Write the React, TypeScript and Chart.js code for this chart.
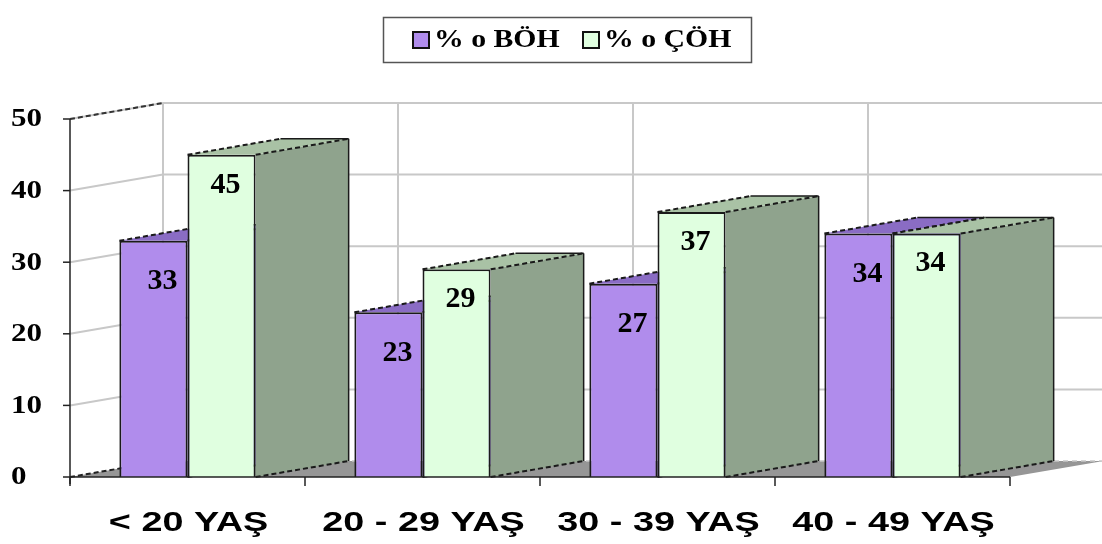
import React, { useEffect, useRef } from "react";
import { Chart, registerables } from "chart.js";

Chart.register(...registerables);

const categories = ["< 20 YAŞ", "20 - 29 YAŞ", "30 - 39 YAŞ", "40 - 49 YAŞ"];
const bohValues = [33, 23, 27, 34];
const cohValues = [45, 29, 37, 34];
const seriesNames = ["% o BÖH", "% o ÇÖH"];
const yTicks = [0, 10, 20, 30, 40, 50];

const DX = 93;
const DY = -16;

const FRONT = ["#B08CEC", "#E0FFE0"];
const TOP = ["#8A6CC4", "#A9C2A5"];
const SIDE = ["#7D60B4", "#8FA38D"];
const EDGE = "#1a1a1a";

const SERIF = '"Liberation Serif", "Times New Roman", Times, serif';
const SANS = '"Liberation Sans", Arial, Helvetica, sans-serif';

function stretchedText(
  ctx: CanvasRenderingContext2D,
  text: string,
  x: number,
  y: number,
  font: string,
  sx: number,
  align: CanvasTextAlign
) {
  ctx.save();
  ctx.font = font;
  ctx.textAlign = align;
  ctx.textBaseline = "middle";
  ctx.fillStyle = "#000";
  ctx.translate(x, y);
  ctx.scale(sx, 1);
  ctx.fillText(text, 0, 0);
  ctx.restore();
}

function poly(ctx: CanvasRenderingContext2D, pts: number[][], fill: string) {
  ctx.beginPath();
  ctx.moveTo(pts[0][0], pts[0][1]);
  for (let i = 1; i < pts.length; i++) ctx.lineTo(pts[i][0], pts[i][1]);
  ctx.closePath();
  ctx.fillStyle = fill;
  ctx.fill();
}

function line(
  ctx: CanvasRenderingContext2D,
  x1: number,
  y1: number,
  x2: number,
  y2: number,
  color: string,
  w: number,
  dash: number[] = []
) {
  ctx.save();
  ctx.beginPath();
  ctx.setLineDash(dash);
  ctx.strokeStyle = color;
  ctx.lineWidth = w;
  ctx.moveTo(x1, y1);
  ctx.lineTo(x2, y2);
  ctx.stroke();
  ctx.restore();
}

function drawBox3D(ctx: CanvasRenderingContext2D, el: any, idx: number) {
  const p = el.getProps(["x", "y", "base", "width"], true);
  const l = p.x - p.width / 2;
  const r = p.x + p.width / 2;
  const t = p.y;
  const b = p.base;
  poly(ctx, [[r, t], [r + DX, t + DY], [r + DX, b + DY], [r, b]], SIDE[idx]);
  poly(ctx, [[l, t], [r, t], [r + DX, t + DY], [l + DX, t + DY]], TOP[idx]);
  line(ctx, r + DX, t + DY, r + DX, b + DY, EDGE, 1.5);
  line(ctx, l, t, l + DX, t + DY, EDGE, 2, [5, 3]);
  line(ctx, r, t, r + DX, t + DY, EDGE, 2, [5, 3]);
  line(ctx, l + DX, t + DY, r + DX, t + DY, EDGE, 1.5);
  line(ctx, r, b, r + DX, b + DY, EDGE, 2, [5, 3]);
}

const threeD = {
  id: "threeD",
  beforeDatasetsDraw(chart: any) {
    const ctx: CanvasRenderingContext2D = chart.ctx;
    const area = chart.chartArea;
    const ys = chart.scales.y;
    const xs = chart.scales.x;
    const L = area.left;
    const R = area.right;
    const T = ys.getPixelForValue(yTicks[yTicks.length - 1]);
    const B = ys.getPixelForValue(0);
    const step = (R - L) / categories.length;

    poly(ctx, [[L, B], [R, B], [R + DX, B + DY], [L + DX, B + DY]], "#969696");
    line(ctx, L + DX, B + DY, R + DX, B + DY, "#c8c8c8", 1.5, [5, 4]);

    for (const v of yTicks) {
      const py = ys.getPixelForValue(v);
      if (v > 0) {
        line(ctx, L, py, L + DX, py + DY, "#c8c8c8", 2);
        line(ctx, L + DX, py + DY, R + DX + 10, py + DY, "#c8c8c8", 2);
      }
    }
    for (let i = 0; i <= categories.length; i++) {
      const px = (i < categories.length ? xs.getPixelForValue(i) - step / 2 : xs.getPixelForValue(i - 1) + step / 2) + DX;
      line(ctx, px, T + DY, px, B + DY, "#c8c8c8", 2);
    }
    line(ctx, L, T, L + DX, T + DY, "#333", 2, [5, 3]);
    line(ctx, L, B, L + DX, B + DY, "#222", 2, [5, 3]);

    const meta0 = chart.getDatasetMeta(0);
    meta0.data.forEach((el: any) => drawBox3D(ctx, el, 0));
  },
  afterDatasetsDraw(chart: any) {
    const ctx: CanvasRenderingContext2D = chart.ctx;
    const meta1 = chart.getDatasetMeta(1);
    meta1.data.forEach((el: any) => drawBox3D(ctx, el, 1));
  },
  afterDraw(chart: any) {
    const ctx: CanvasRenderingContext2D = chart.ctx;
    const area = chart.chartArea;
    const ys = chart.scales.y;
    const xs = chart.scales.x;
    const L = area.left;
    const R = area.right;
    const T = ys.getPixelForValue(yTicks[yTicks.length - 1]);
    const B = ys.getPixelForValue(0);
    const step = (R - L) / categories.length;

    line(ctx, L, T, L, B + 7, "#222", 1.5);
    line(ctx, L, B, R, B, "#222", 1.5);
    for (const v of yTicks) {
      const py = ys.getPixelForValue(v);
      line(ctx, L - 7, py, L, py, "#222", 1.5);
      stretchedText(ctx, String(v), 11, py + 1, `bold 25px ${SERIF}`, 1.24, "left");
    }
    for (let i = 0; i <= categories.length; i++) {
      const px = i < categories.length ? xs.getPixelForValue(i) - step / 2 : xs.getPixelForValue(i - 1) + step / 2;
      line(ctx, px, B, px, B + 9, "#222", 1.5);
    }
    categories.forEach((c, i) => {
      stretchedText(ctx, c, xs.getPixelForValue(i) + 1, B + 46, `bold 28px ${SANS}`, 1.35, "center");
    });

    const labelOff = [
      { dx: 9, dy: 41 },
      { dx: 4, dy: 30 },
    ];
    [0, 1].forEach((d) => {
      const meta = chart.getDatasetMeta(d);
      const vals = chart.data.datasets[d].data;
      meta.data.forEach((el: any, i: number) => {
        const p = el.getProps(["x", "y"], true);
        stretchedText(ctx, String(vals[i]), p.x + labelOff[d].dx, p.y + labelOff[d].dy, `bold 30px ${SERIF}`, 1.0, "center");
      });
    });

    ctx.save();
    ctx.strokeStyle = "#555";
    ctx.lineWidth = 1.5;
    ctx.strokeRect(383.5, 17.5, 368, 45);
    ctx.restore();
    const lx = [413, 583];
    seriesNames.forEach((n, i) => {
      ctx.save();
      ctx.fillStyle = FRONT[i];
      ctx.fillRect(lx[i], 32, 16, 16);
      ctx.strokeStyle = "#111";
      ctx.lineWidth = 2;
      ctx.strokeRect(lx[i], 32, 16, 16);
      ctx.restore();
      stretchedText(ctx, n, lx[i] + 21, 41, `bold 25px ${SERIF}`, 1.19, "left");
    });
  },
};

export default function App() {
  const ref = useRef<HTMLCanvasElement>(null);
  useEffect(() => {
    if (!ref.current) return;
    const chart = new Chart(ref.current, {
      type: "bar",
      data: {
        labels: categories,
        datasets: [
          {
            label: seriesNames[0],
            data: bohValues,
            backgroundColor: FRONT[0],
            borderColor: EDGE,
            borderWidth: 2,
            categoryPercentage: 0.58,
            barPercentage: 1.0,
          },
          {
            label: seriesNames[1],
            data: cohValues,
            backgroundColor: FRONT[1],
            borderColor: EDGE,
            borderWidth: 2,
            categoryPercentage: 0.58,
            barPercentage: 1.0,
          },
        ],
      },
      options: {
        responsive: false,
        animation: false,
        layout: { padding: { left: 70, right: 92, top: 119, bottom: 67 } },
        plugins: { legend: { display: false }, tooltip: { enabled: false } },
        scales: {
          x: { display: false, offset: true },
          y: { display: false, min: 0, max: 50 },
        },
      },
      plugins: [threeD],
    });
    return () => chart.destroy();
  }, []);
  return (
    <div style={{ position: "absolute", left: 0, top: 0, width: 1102, height: 544, background: "#fff" }}>
      <canvas ref={ref} width={1102} height={544} />
    </div>
  );
}
